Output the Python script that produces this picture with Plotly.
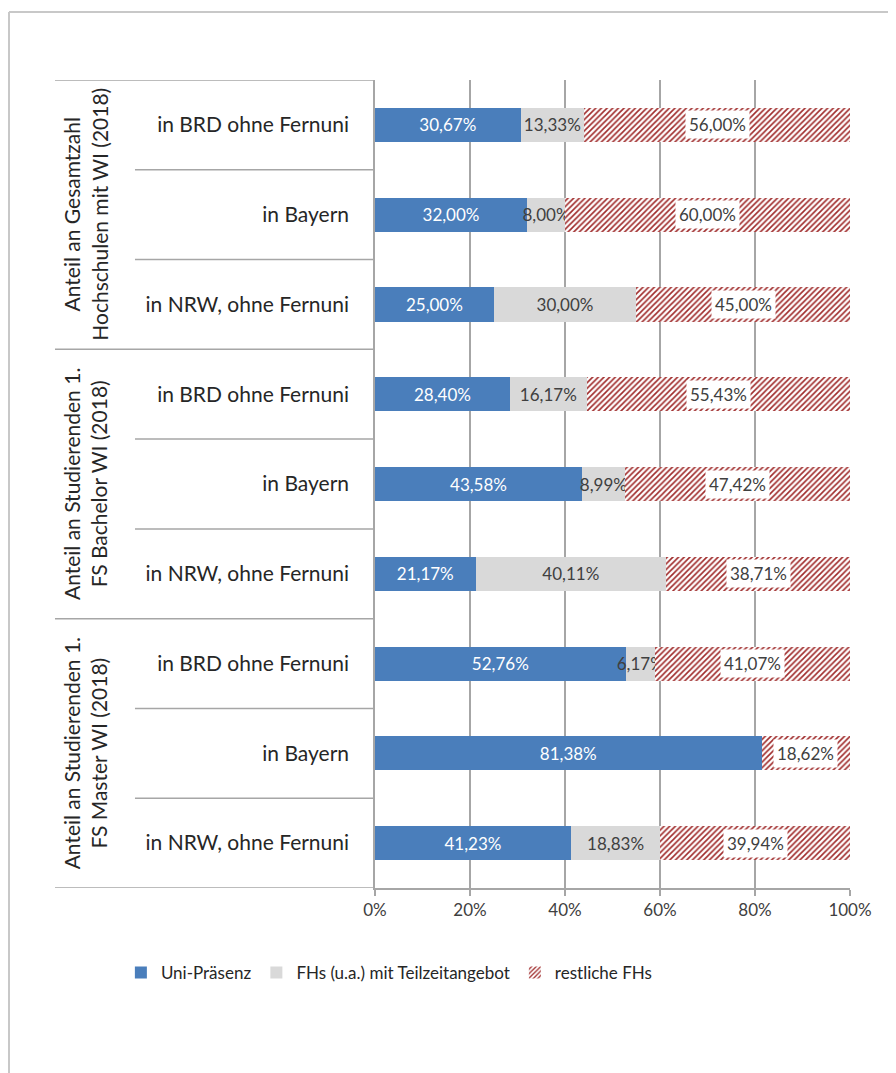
import plotly.graph_objects as go

# Rows from top to bottom
groups = [
    "Anteil an Gesamtzahl<br>Hochschulen mit WI (2018)",
    "Anteil an Studierenden 1.<br>FS Bachelor WI (2018)",
    "Anteil an Studierenden 1.<br>FS Master WI (2018)",
]
regions = ["in BRD ohne Fernuni", "in Bayern", "in NRW, ohne Fernuni"]

uni_praesenz = [30.67, 32.00, 25.00, 28.40, 43.58, 21.17, 52.76, 81.38, 41.23]
fh_teilzeit = [13.33, 8.00, 30.00, 16.17, 8.99, 40.11, 6.17, 0.00, 18.83]
restliche_fh = [56.00, 60.00, 45.00, 55.43, 47.42, 38.71, 41.07, 18.62, 39.94]

x_ticks = [0, 20, 40, 60, 80, 100]

FONT = "Lato, 'Open Sans', sans-serif"
GRID = "#a6a6a6"

labels = [r for g in groups for r in regions]
rows = list(range(len(labels)))


def pct(v):
    if v <= 0:
        return ""
    return f"{v:.2f}".replace(".", ",") + "%"


fig = go.Figure()

fig.add_trace(go.Bar(
    y=rows, x=uni_praesenz, orientation="h", name="Uni-Präsenz",
    marker=dict(color="#4a7ebb", line=dict(width=0)),
    text=[pct(v) for v in uni_praesenz], textposition="inside",
    insidetextanchor="middle", textangle=0, constraintext="none",
    textfont=dict(color="white", size=17, family=FONT),
    width=0.38,
))
fig.add_trace(go.Bar(
    y=rows, x=fh_teilzeit, orientation="h", name="FHs (u.a.) mit Teilzeitangebot",
    marker=dict(color="#d9d9d9", line=dict(width=0)),
    text=[pct(v) for v in fh_teilzeit], textposition="inside",
    insidetextanchor="middle", textangle=0, constraintext="none",
    textfont=dict(color="#404040", size=17, family=FONT),
    width=0.38,
))
fig.add_trace(go.Bar(
    y=rows, x=restliche_fh, orientation="h", name="restliche FHs",
    marker=dict(
        color="white", line=dict(width=0),
        pattern=dict(shape="/", fgcolor="#a02c2c", bgcolor="white",
                     size=4, solidity=0.4, fillmode="replace"),
    ),
    width=0.38,
))

# labels on the hatched segments get a white box
for i in rows:
    start = uni_praesenz[i] + fh_teilzeit[i]
    fig.add_annotation(
        x=start + restliche_fh[i] / 2, y=i, xref="x", yref="y",
        text=pct(restliche_fh[i]), showarrow=False,
        font=dict(size=17, color="#404040", family=FONT),
        bgcolor="white", borderpad=3,
    )

# group labels (rotated)
for g, name in enumerate(groups):
    fig.add_annotation(
        x=-0.6105, y=g * 3 + 1, xref="paper", yref="y",
        xanchor="center", yanchor="middle",
        text=name, textangle=-90, showarrow=False,
        font=dict(size=21, color="#262626", family=FONT),
    )

# table lines on the left
for b in [-0.5, 2.5, 5.5, 8.5]:
    fig.add_shape(type="line", xref="paper", yref="y", x0=-0.6737, x1=0,
                  y0=b, y1=b, line=dict(color=GRID, width=1.5))
for b in [0.5, 1.5, 3.5, 4.5, 6.5, 7.5]:
    fig.add_shape(type="line", xref="paper", yref="y", x0=-0.5053, x1=0,
                  y0=b, y1=b, line=dict(color=GRID, width=1.5))

# outer frame
fig.add_shape(type="line", xref="paper", yref="paper", x0=-0.7705, x1=-0.7705,
              y0=-0.25, y1=1.0842, line=dict(color="#c8c8c8", width=2))
fig.add_shape(type="line", xref="paper", yref="paper", x0=-0.7705, x1=1.12,
              y0=1.0842, y1=1.0842, line=dict(color="#c8c8c8", width=2))

fig.update_layout(
    barmode="stack",
    width=888, height=1065,
    margin=dict(l=367, r=46, t=72, b=185),
    paper_bgcolor="white", plot_bgcolor="white",
    font=dict(family=FONT, color="#404040"),
    bargap=0.6,
    legend=dict(
        orientation="h", x=-0.535, xanchor="left",
        y=-0.105, yanchor="middle",
        font=dict(size=17, color="#262626", family=FONT),
        itemwidth=30, traceorder="normal",
    ),
    xaxis=dict(
        range=[0, 100], tickvals=x_ticks, ticktext=[f"{v}%" for v in x_ticks],
        showgrid=True, gridcolor=GRID, gridwidth=1.5,
        showline=True, linecolor=GRID, linewidth=1.5,
        ticks="outside", ticklen=6, tickcolor=GRID, tickwidth=1.5,
        tickfont=dict(size=17, color="#404040"), zeroline=False,
    ),
    yaxis=dict(
        range=[8.5, -0.5], tickvals=rows, ticktext=labels,
        showgrid=False, zeroline=False,
        showline=True, linecolor=GRID, linewidth=1.5,
        ticks="", ticklabelstandoff=20,
        tickfont=dict(size=21, color="#262626"),
    ),
)

fig.write_html("out.html")
